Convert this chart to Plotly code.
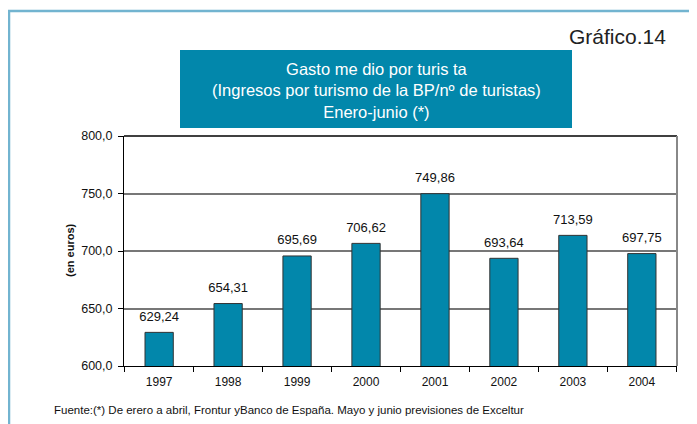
import plotly.graph_objects as go

years = ["1997", "1998", "1999", "2000", "2001", "2002", "2003", "2004"]
gasto = [629.24, 654.31, 695.69, 706.62, 749.86, 693.64, 713.59, 697.75]
labels = ["629,24", "654,31", "695,69", "706,62", "749,86", "693,64", "713,59", "697,75"]
y_ticks = [600, 650, 700, 750, 800]
y_tick_text = ["600,0", "650,0", "700,0", "750,0", "800,0"]

# page is drawn with an 8px body margin, so work in page pixels and shift
OFF = 8
W, H = 697 - OFF, 424 - OFF
L, R, T, B = 124 - OFF, 20, 136 - OFF, 58
PW, PH = W - L - R, H - T - B

def px(x):
    return (x - OFF - L) / PW

def py(y):
    return (H - B - (y - OFF)) / PH

TEAL = "#0287ab"
FONT = "Liberation Sans, Arial, sans-serif"

fig = go.Figure()
fig.add_trace(go.Bar(
    x=years, y=gasto,
    marker=dict(color=TEAL, line=dict(color="#333", width=1)),
    width=0.41,
    hoverinfo="skip",
))
# value labels above the bars (invisible marker pushes the text up a bit)
fig.add_trace(go.Scatter(
    x=years, y=gasto, text=labels,
    mode="markers+text", textposition="top center",
    marker=dict(size=12, opacity=0),
    textfont=dict(size=13, color="#111", family=FONT),
    cliponaxis=False,
))

fig.update_xaxes(
    showline=True, linecolor="black", linewidth=1,
    ticks="outside", ticklen=5, tickcolor="black", tickson="boundaries",
    tickfont=dict(size=12, color="#111"),
    ticklabelstandoff=5,
)
fig.update_yaxes(
    range=[600, 800], tickvals=y_ticks, ticktext=y_tick_text,
    showline=True, linecolor="black", linewidth=1,
    ticks="outside", ticklen=5, tickcolor="black",
    showgrid=True, gridcolor="#777", gridwidth=1.5,
    tickfont=dict(size=12.5, color="#111"),
    ticklabelstandoff=3,
    zeroline=False,
)

shapes = [
    # outer frame
    dict(type="rect", xref="paper", yref="paper",
         x0=px(9), x1=px(720), y0=py(440), y1=py(11),
         line=dict(color="#72b4d0", width=2.5), layer="below"),
    # title box
    dict(type="rect", xref="paper", yref="paper",
         x0=px(180), x1=px(572), y0=py(128), y1=py(50),
         fillcolor=TEAL, line=dict(width=0)),
    # top border
    dict(type="line", xref="paper", yref="paper", x0=0, x1=1, y0=1, y1=1,
         line=dict(color="black", width=1.5)),
    # right border
    dict(type="line", xref="paper", yref="paper", x0=1, x1=1, y0=0, y1=1,
         line=dict(color="#888", width=2)),
]

annotations = [
    dict(text="Gasto me dio por turis ta<br>(Ingresos por turismo de la BP/nº de turistas)<br>Enero-junio (*)",
         x=px(376), y=py(90), xref="paper", yref="paper", showarrow=False,
         font=dict(size=16.5, color="white", family=FONT), align="center",
         xanchor="center", yanchor="middle"),
    dict(text="Gráfico.14", x=px(668), y=py(36), xref="paper", yref="paper",
         showarrow=False, xanchor="right", yanchor="middle",
         font=dict(size=21, color="#222", family=FONT)),
    dict(text="<b>(en euros)</b>", x=px(70), y=py(250), xref="paper", yref="paper",
         showarrow=False, textangle=-90, xanchor="center", yanchor="middle",
         font=dict(size=11, color="#111", family=FONT)),
    dict(text="Fuente:(*) De erero a abril, Frontur yBanco de España. Mayo y junio previsiones de Exceltur",
         x=px(52), y=py(410), xref="paper", yref="paper", showarrow=False,
         xanchor="left", yanchor="middle",
         font=dict(size=11.5, color="#111", family=FONT)),
]

fig.update_layout(
    width=W, height=H,
    margin=dict(l=L, r=R, t=T, b=B),
    plot_bgcolor="white", paper_bgcolor="white",
    font=dict(family=FONT),
    showlegend=False,
    shapes=shapes,
    annotations=annotations,
)

fig.write_html("out.html")
